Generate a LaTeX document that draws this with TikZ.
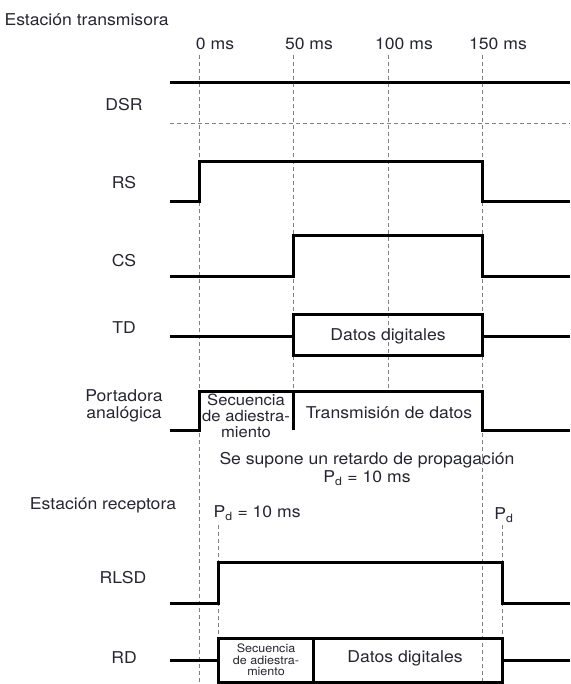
\documentclass[tikz,border=0pt]{standalone}
\usepackage{fontspec}
\setmainfont{TeX Gyre Heros}[FakeStretch=1.08]
\definecolor{ink}{RGB}{38,38,50}
\begin{document}
\begin{tikzpicture}[x=1pt, y=-1pt,
    signal/.style={line width=3pt},
    guide/.style={gray, line width=0.7pt, dash pattern=on 4pt off 3pt},
    lbl/.style={text=ink, font=\fontsize{16.3}{17}\selectfont},
    small/.style={text=ink, font=\fontsize{11.6}{11.5}\selectfont, align=center}]

                \useasboundingbox (0,0) rectangle (570,684);

                % Headings
                \node[lbl, anchor=west] (tx) at (1,20) {Estación transmisora};
                \node[lbl] (rx) at (103,505) {Estación receptora};

                % Time marks
                \foreach \tm/\xx in {0/199,50/293,100/388,150/482}
                    \node[lbl] (t\tm) at (\xx+16,44) {\tm\ ms};

                % Dashed guides
                \draw[guide] (199,55) -- (199,684);
                \draw[guide] (293,55) -- (293,391);
                \draw[guide] (388,55) -- (388,391);
                \draw[guide] (482,55) -- (482,684);
                \draw[guide] (218,525) -- (218,684);
                \draw[guide] (502,525) -- (502,684);
                \draw[guide] (170,123) -- (570,123);

                % Signal names
                \node[lbl] (dsr) at (124,105) {DSR};
                \node[lbl] (rs) at (124,183) {RS};
                \node[lbl] (cs) at (124,261) {CS};
                \node[lbl] (td) at (124,328) {TD};
                \node[lbl, align=center] (car) at (124,406) {Portadora\\analógica};
                \node[lbl] (rlsd) at (123,578) {RLSD};
                \node[lbl] (rd) at (124,658) {RD};

                % Transmitter signals
                \draw[signal] (170,83) -- (570,83);
                \draw[signal] (170,202) -- (199,202) -- (199,162) -- (482,162) -- (482,202) -- (570,202);
                \draw[signal] (170,276) -- (293,276) -- (293,236) -- (482,236) -- (482,276) -- (570,276);
                \draw[signal] (170,336) -- (293,336) (482,336) -- (570,336);
                \draw[signal] (293,314) rectangle (482,355);
                \draw[signal] (170,430) -- (199,430) -- (199,391) -- (482,391) -- (482,430) -- (570,430);
                \draw[signal] (293,391) -- (293,430);

                % Receiver signals
                \draw[signal] (170,603) -- (218,603) -- (218,562) -- (502,562) -- (502,603) -- (570,603);
                \draw[signal] (170,660) -- (218,660) (502,660) -- (570,660);
                \draw[signal] (218,638) rectangle (502,682);
                \draw[signal] (313,638) -- (313,682);

                % Texts inside
                \node[lbl] (tddata) at (388,336) {Datos digitales};
                \node[lbl, align=center, font=\fontsize{15.4}{16}\selectfont] (seq) at (246,416) {Secuencia\\de adiestra-\\miento};
                \node[lbl] (txdata) at (389,413) {Transmisión de datos};
                \node[lbl, align=center, font=\fontsize{16.3}{18}\selectfont] (note) at (367,469) {Se supone un retardo de propagación\\P\textsubscript{d} = 10 ms};
                \node[lbl, anchor=west] (pd0) at (210,513) {P\textsubscript{d} = 10 ms};
                \node[lbl] (pd1) at (504,515) {P\textsubscript{d}};
                \node[small] (rdseq) at (266,660) {Secuencia\\de adiestra-\\miento};
                \node[lbl] (rddata) at (405,658) {Datos digitales};

            \end{tikzpicture}
\end{document}
